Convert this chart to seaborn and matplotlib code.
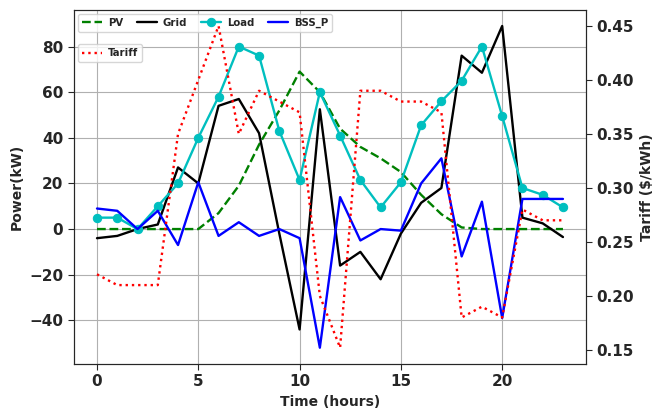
import numpy as np
import pandas as pd
import matplotlib
matplotlib.use('Agg')
import matplotlib.pyplot as plt
import seaborn as sns

hours = list(range(24))
pv = [0, 0, 0, 0, 0, 0, 7, 19, 37, 52, 69, 60, 44, 36, 31, 25, 15, 6.5, 0.7, 0, 0, 0, 0, 0]
grid = [-4, -3, 0, 2, 27, 20, 54, 57, 42, -2, -44, 52.5, -16, -10, -22, -2, 11.5, 18, 76, 68.5, 89, 5, 2.5, -3.5]
load = [5, 5, 0, 10, 20, 40, 58, 80, 76, 43, 21.5, 60, 41, 21.5, 9.5, 20.5, 45.5, 56, 65, 80, 49.5, 18, 15, 9.5]
bss_p = [9, 8, 0, 8, -7, 20.5, -3, 3, -3, 0, -4, -52, 14, -5, 0, -0.7, 20, 31, -12, 12, -39, 13.2, 13.2, 13.2]
tariff = [0.22, 0.21, 0.21, 0.21, 0.35, 0.40, 0.45, 0.35, 0.39, 0.38, 0.37, 0.20, 0.152, 0.39, 0.39, 0.38, 0.38, 0.37, 0.18, 0.19, 0.18, 0.28, 0.27, 0.27]

df = pd.DataFrame({'hour': hours, 'PV': pv, 'Grid': grid, 'Load': load,
                   'BSS_P': bss_p, 'Tariff': tariff})

sns.set_style('white')
plt.rcParams['font.family'] = ['DejaVu Sans']
plt.rcParams['font.weight'] = 'bold'

fig, ax = plt.subplots(figsize=(6.7, 4.12), dpi=100)
fig.subplots_adjust(left=0.110, right=0.875, top=0.976, bottom=0.117)

lw = 1.7
sns.lineplot(data=df, x='hour', y='PV', ax=ax, color='green', linestyle='--', lw=lw, label='PV')
sns.lineplot(data=df, x='hour', y='Grid', ax=ax, color='black', lw=lw, label='Grid')
sns.lineplot(data=df, x='hour', y='Load', ax=ax, color='c', lw=lw, marker='o',
             markersize=6, markeredgecolor='c', label='Load')
sns.lineplot(data=df, x='hour', y='BSS_P', ax=ax, color='blue', lw=lw, label='BSS_P')

ax.grid(True, color='#b0b0b0', lw=0.8)
ax.set_xlabel('Time (hours)', fontsize=10, fontweight='bold')
ax.set_ylabel('Power(kW)', fontsize=10, fontweight='bold')
ax.set_xticks([0, 5, 10, 15, 20])
ax.tick_params(labelsize=11, length=4, left=True, bottom=True)
for s in ax.spines.values():
    s.set_color('#333333')
leg1 = ax.legend(loc='upper left', ncol=4, prop={'size': 7.3, 'weight': 'bold'},
                 handlelength=2.0, columnspacing=1.3, handletextpad=0.6, borderaxespad=0.4)

ax2 = ax.twinx()
sns.lineplot(data=df, x='hour', y='Tariff', ax=ax2, color='red', linestyle=':', lw=lw, label='Tariff')
ax2.set_ylabel('Tariff ($/kWh)', fontsize=10, fontweight='bold')
ax2.set_yticks([0.15, 0.20, 0.25, 0.30, 0.35, 0.40, 0.45])
ax2.tick_params(labelsize=11, length=4, right=True)
ax2.legend(loc='upper left', bbox_to_anchor=(0, 0.915), prop={'size': 7.3, 'weight': 'bold'},
           handlelength=2.0, handletextpad=0.6, borderaxespad=0.4)

fig.savefig('out.png', dpi=100)
